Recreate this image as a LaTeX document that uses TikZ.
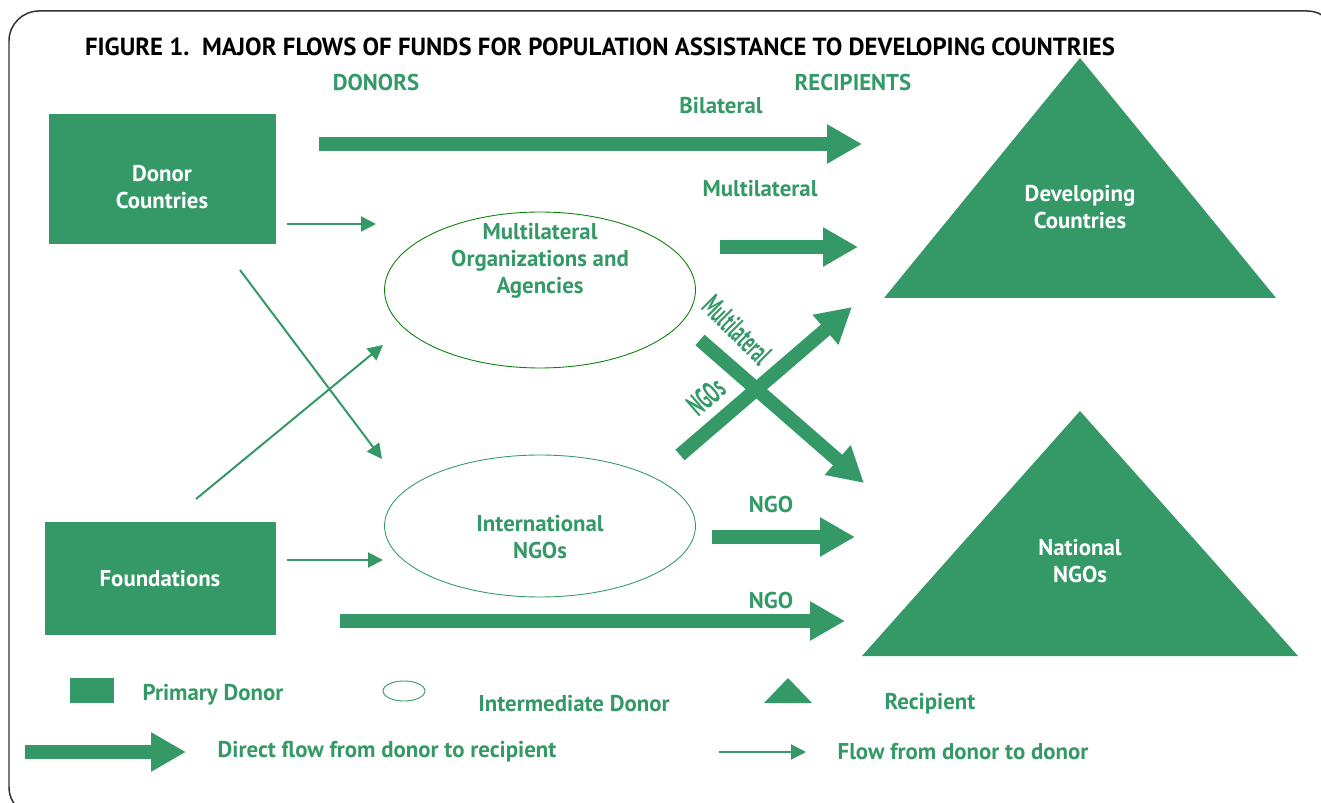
\documentclass[tikz,border=0pt]{standalone}
\usepackage{fontspec}
\setmainfont{PT Sans}
\usetikzlibrary{arrows.meta,shapes.geometric}
\definecolor{fundgreen}{RGB}{52,153,103}
\definecolor{rimgreen}{RGB}{10,128,10}
\begin{document}
\begin{tikzpicture}[x=0.02cm, y=-0.02cm, font=\bfseries\fontsize{13}{15.5}\selectfont, line join=round,
 bigflow/.style={fundgreen, line width=0.28cm, -{Triangle[length=0.7cm,width=0.74cm]}},
 thinflow/.style={fundgreen, line width=0.04cm, -{Triangle[length=0.3cm,width=0.3cm]}},
 donorbox/.style={fill=fundgreen, inner sep=0pt},
 midbox/.style={ellipse, inner sep=0pt, line width=0.5pt},
 txt/.style={text=fundgreen, align=center, inner sep=0pt}]
 \useasboundingbox (0,0) rectangle (1321,803);
 \draw[black!80, line width=0.03cm, rounded corners=0.6cm] (9,11) rectangle (1337,817);
 \node[inner sep=0pt, font=\bfseries\fontsize{14.1}{16}\selectfont] (title) at (600,47) {FIGURE 1.\ \ MAJOR FLOWS OF FUNDS FOR POPULATION ASSISTANCE TO DEVELOPING COUNTRIES};
 \node[txt] (donors) at (376,83) {DONORS};
 \node[txt] (recips) at (853,83) {RECIPIENTS};
 % donors
 \node[donorbox, minimum width=4.54cm, minimum height=2.6cm] (dc) at (162.5,179) {};
 \node[txt, text=white] (dctext) at (162,187) {Donor\\Countries};
 \node[donorbox, minimum width=4.62cm, minimum height=2.26cm] (fd) at (160.5,578.5) {};
 \node[txt, text=white] (fdtext) at (160,579) {Foundations};
 % intermediate donors
 \node[midbox, draw=rimgreen, minimum width=6.22cm, minimum height=3.12cm] (mo) at (540,290) {};
 \node[txt] (motext) at (540,261) {Multilateral\\Organizations and\\Agencies};
 \node[midbox, draw=fundgreen, minimum width=6.22cm, minimum height=2.84cm] (in) at (540,526) {};
 \node[txt] (intext) at (540,537) {International\\NGOs};
 % recipients
 \fill[fundgreen] (1080,58) -- (1276,298) -- (884,298) -- cycle;
 \node[txt, text=white] (dev) at (1080,207) {Developing\\Countries};
 \fill[fundgreen] (1080,411) -- (1298,656) -- (862,656) -- cycle;
 \node[txt, text=white] (nat) at (1080,561) {National\\NGOs};
 % flow ends
 \foreach \n/\p in {b1/{319,144}, b2/{862,144}, m1/{720,247}, m2/{858,247}, g1/{712,537}, g2/{855,537},
   f1/{340,621}, f2/{845,621}, u1/{680,455}, u2/{852,307}, d1/{700,340}, d2/{864,483},
   t1/{287,224}, t2/{376,224}, t3/{240,270}, t4/{382,459}, t5/{196,499}, t6/{383,345}, t7/{287,560}, t8/{383,560}}
   \coordinate (\n) at (\p);
 \draw[bigflow] (b1) -- (b2);
 \draw[bigflow] (m1) -- (m2);
 \draw[bigflow] (g1) -- (g2);
 \draw[bigflow] (f1) -- (f2);
 \draw[bigflow] (u1) -- (u2);
 \draw[bigflow] (d1) -- (d2);
 \draw[thinflow] (t1) -- (t2);
 \draw[thinflow] (t3) -- (t4);
 \draw[thinflow] (t5) -- (t6);
 \draw[thinflow] (t7) -- (t8);
 \node[txt] (lbil) at (721,106) {Bilateral};
 \node[txt] (lmul) at (760,189) {Multilateral};
 \node[txt] (lngo1) at (771,505) {NGO};
 \node[txt] (lngo2) at (771,601) {NGO};
 \node[txt, rotate=-45, xscale=0.72, yscale=1.35, transform shape] (lxm) at (737,330) {Multilateral};
 \node[txt, rotate=41, xscale=0.72, yscale=1.35, transform shape] (lxn) at (706,397) {NGOs};
 % legend
 \fill[fundgreen] (70,678) rectangle (114,703);
 \node[txt] (kprim) at (213,695) {Primary Donor};
 \node[midbox, draw=fundgreen, minimum width=0.84cm, minimum height=0.4cm] (kell) at (404,691) {};
 \node[txt] (kmid) at (574,704) {Intermediate Donor};
 \fill[fundgreen] (788,678) -- (812,703) -- (764,703) -- cycle;
 \node[txt] (krec) at (930,704) {Recipient};
 \coordinate (k1) at (25,752); \coordinate (k2) at (186,752);
 \coordinate (k3) at (719,752); \coordinate (k4) at (806,752);
 \draw[bigflow] (k1) -- (k2);
 \node[txt] (kdir) at (387,752) {Direct flow from donor to recipient};
 \draw[thinflow] (k3) -- (k4);
 \node[txt] (kdd) at (963,752) {Flow from donor to donor};
\end{tikzpicture}
\end{document}
